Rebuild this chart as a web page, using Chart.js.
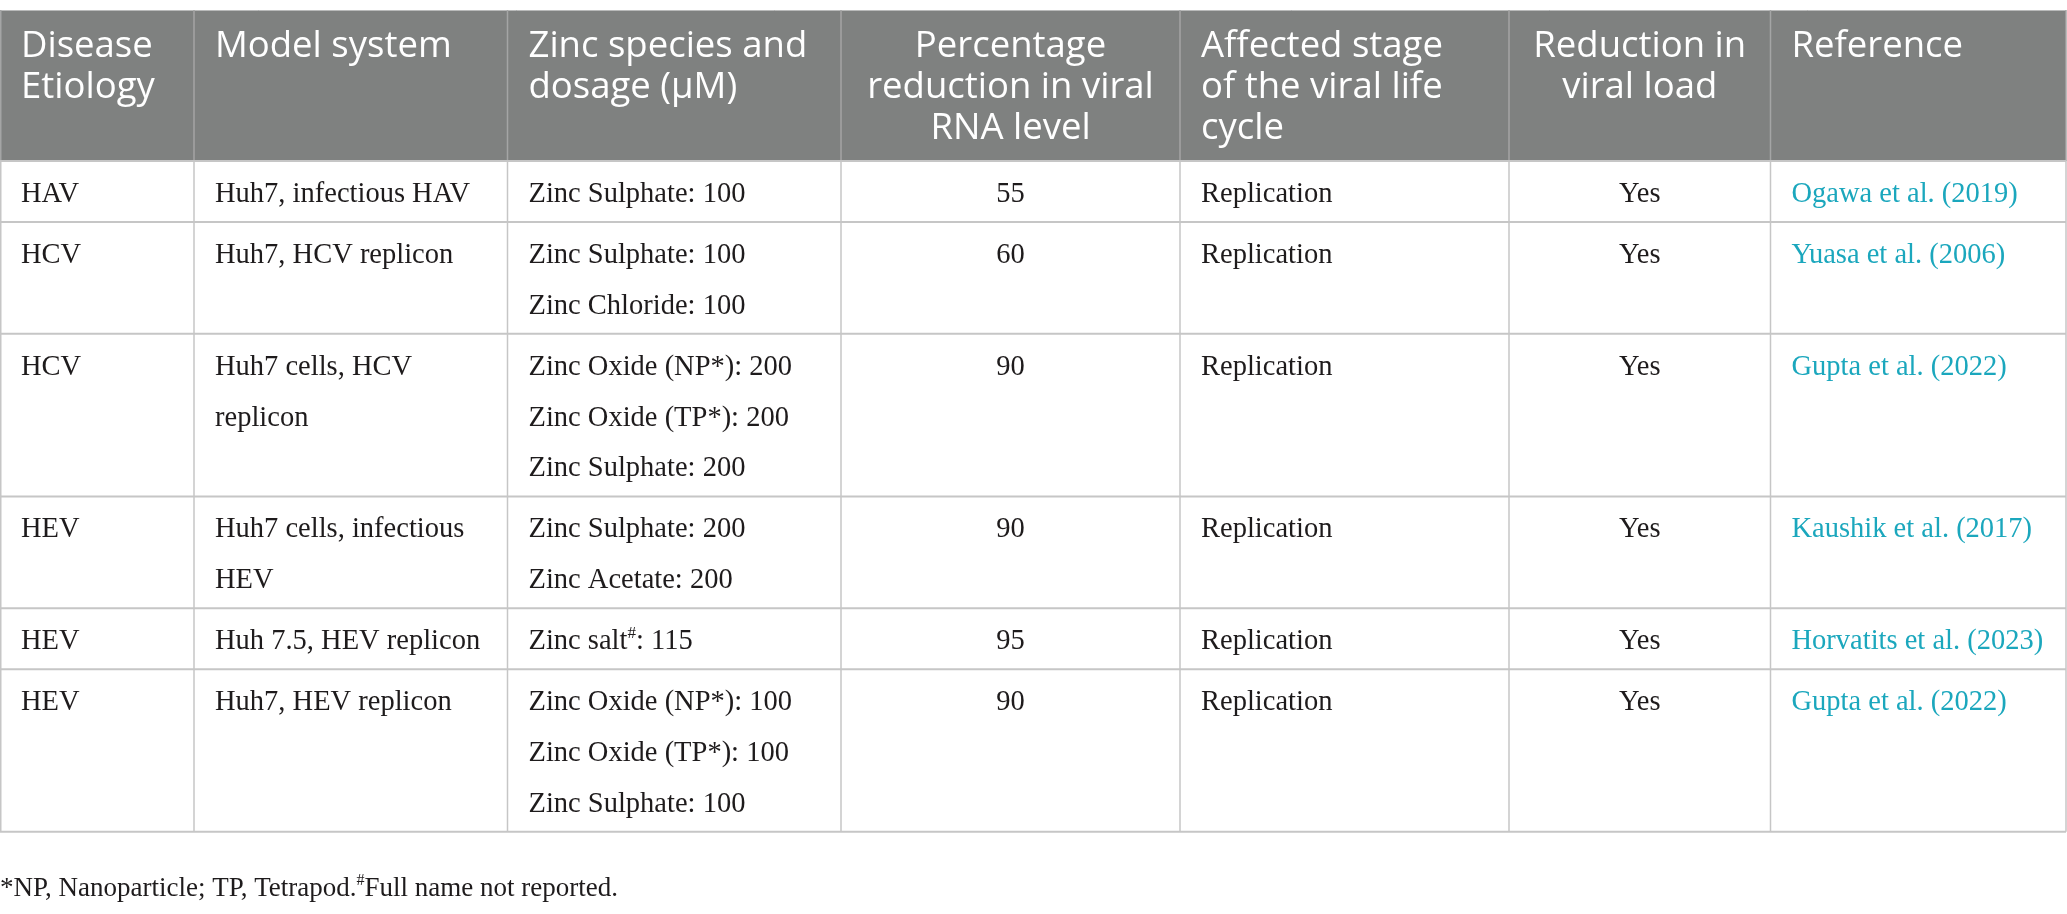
<!DOCTYPE html>
<html>
<head>
<meta charset="utf-8">
<script src="https://cdn.jsdelivr.net/npm/chart.js@4.4.1/dist/chart.umd.min.js"></script>
<style>
  html, body { margin: 0; padding: 0; background: #ffffff; overflow: hidden; }
  #wrap { width: 2067px; height: 914px; position: relative; }
</style>
</head>
<body>
<div id="wrap"><canvas id="c"></canvas></div>
<script>
// ---------------- DATA ----------------
const headers = [
  ['Disease', 'Etiology'],
  ['Model system'],
  ['Zinc species and', 'dosage (\u03bcM)'],
  ['Percentage', 'reduction in viral', 'RNA level'],
  ['Affected stage', 'of the viral life', 'cycle'],
  ['Reduction in', 'viral load'],
  ['Reference']
];
const etiology = ['HAV', 'HCV', 'HCV', 'HEV', 'HEV', 'HEV'];
const modelSystem = [
  ['Huh7, infectious HAV'],
  ['Huh7, HCV replicon'],
  ['Huh7 cells, HCV', 'replicon'],
  ['Huh7 cells, infectious', 'HEV'],
  ['Huh 7.5, HEV replicon'],
  ['Huh7, HEV replicon']
];
const zincDosage = [
  ['Zinc Sulphate: 100'],
  ['Zinc Sulphate: 100', 'Zinc Chloride: 100'],
  ['Zinc Oxide (NP*): 200', 'Zinc Oxide (TP*): 200', 'Zinc Sulphate: 200'],
  ['Zinc Sulphate: 200', 'Zinc Acetate: 200'],
  ['Zinc salt^#: 115'],
  ['Zinc Oxide (NP*): 100', 'Zinc Oxide (TP*): 100', 'Zinc Sulphate: 100']
];
const rnaReduction = [55, 60, 90, 90, 95, 90];
const affectedStage = ['Replication', 'Replication', 'Replication', 'Replication', 'Replication', 'Replication'];
const loadReduction = ['Yes', 'Yes', 'Yes', 'Yes', 'Yes', 'Yes'];
const references = [
  'Ogawa et al. (2019)',
  'Yuasa et al. (2006)',
  'Gupta et al. (2022)',
  'Kaushik et al. (2017)',
  'Horvatits et al. (2023)',
  'Gupta et al. (2022)'
];
const footnote = '*NP, Nanoparticle; TP, Tetrapod.^#Full name not reported.';

// ---------------- LAYOUT / STYLE ----------------
const W = 2067, H = 914;
const layout = {
  colEdges: [0, 194, 507.5, 841, 1180, 1509, 1770.5, 2066],
  colAlign: ['left', 'left', 'left', 'center', 'left', 'center', 'left'],
  padLeft: 21,
  headerTop: 10,
  headerBottom: 161,
  headerBaseline: 47,
  headerLinePitch: 41,
  rowBase: 61,
  rowLinePitch: 50.8,
  rowBaseline: 41,
  footBaseline: 896
};
const style = {
  headerBg: '#7f8180',
  headerSep: '#a4a5a5',
  headerText: '#ffffff',
  gridColor: '#c6c6c6',
  bodyText: '#1e1b1c',
  linkText: '#1ba7bd',
  headerFont: '36.5px "Open Sans"',
  bodyFont: '28.5px "Liberation Serif"',
  supFont: '17px "Liberation Serif"',
  footFont: '27px "Liberation Serif"',
  footSupFont: '16px "Liberation Serif"'
};

// Build row table from the arrays
const rows = etiology.map((e, i) => ({
  cells: [
    [e],
    modelSystem[i],
    zincDosage[i],
    [String(rnaReduction[i])],
    [affectedStage[i]],
    [loadReduction[i]],
    [references[i]]
  ]
}));

function drawRich(ctx, text, x, y, align, font, supFont) {
  // '^' marks the following character as superscript
  const parts = [];
  for (let i = 0; i < text.length; i++) {
    if (text[i] === '^' && i + 1 < text.length) { parts.push({ t: text[i + 1], sup: true }); i++; }
    else {
      if (parts.length && !parts[parts.length - 1].sup) parts[parts.length - 1].t += text[i];
      else parts.push({ t: text[i], sup: false });
    }
  }
  let total = 0;
  parts.forEach(p => { ctx.font = p.sup ? supFont : font; p.w = ctx.measureText(p.t).width; total += p.w; });
  let cx = align === 'center' ? x - total / 2 : x;
  ctx.textAlign = 'left';
  ctx.textBaseline = 'alphabetic';
  parts.forEach(p => {
    ctx.font = p.sup ? supFont : font;
    ctx.fillText(p.t, cx, p.sup ? y - 11 : y);
    cx += p.w;
  });
}

const tablePlugin = {
  id: 'tablePlugin',
  afterDraw(chart) {
    const ctx = chart.ctx;
    const xs = chart.scales.x, ys = chart.scales.y;
    const px = v => xs.getPixelForValue(v);
    const py = v => ys.getPixelForValue(v);
    const E = layout.colEdges;
    const left = E[0], right = E[E.length - 1];

    // row edges
    const rowEdges = [layout.headerBottom];
    rows.forEach(r => {
      const n = Math.max(...r.cells.map(c => c.length));
      rowEdges.push(rowEdges[rowEdges.length - 1] + layout.rowBase + (n - 1) * layout.rowLinePitch);
    });
    const tableBottom = rowEdges[rowEdges.length - 1];

    ctx.save();
    // header band
    ctx.fillStyle = style.headerBg;
    ctx.fillRect(px(left), py(layout.headerTop), px(right) - px(left), py(layout.headerBottom) - py(layout.headerTop));
    // header top edge
    ctx.strokeStyle = '#b9baba';
    ctx.lineWidth = 1;
    ctx.beginPath();
    ctx.moveTo(px(left), py(layout.headerTop) + 0.5);
    ctx.lineTo(px(right), py(layout.headerTop) + 0.5);
    ctx.stroke();
    // header separators
    ctx.strokeStyle = style.headerSep;
    ctx.lineWidth = 1.5;
    for (let i = 0; i < E.length; i++) {
      ctx.beginPath();
      ctx.moveTo(px(E[i]) + (i === 0 ? 0.75 : 0), py(layout.headerTop));
      ctx.lineTo(px(E[i]) + (i === 0 ? 0.75 : 0), py(layout.headerBottom));
      ctx.stroke();
    }
    // body grid
    ctx.strokeStyle = style.gridColor;
    ctx.lineWidth = 2;
    rowEdges.forEach(y => {
      ctx.beginPath();
      ctx.moveTo(px(left), py(y));
      ctx.lineTo(px(right), py(y));
      ctx.stroke();
    });
    ctx.lineWidth = 1.5;
    E.forEach((x, i) => {
      const xx = px(x) + (i === 0 ? 0.75 : 0);
      ctx.beginPath();
      ctx.moveTo(xx, py(layout.headerBottom));
      ctx.lineTo(xx, py(tableBottom));
      ctx.stroke();
    });

    // header text
    ctx.fillStyle = style.headerText;
    headers.forEach((lines, c) => {
      const align = layout.colAlign[c];
      const x = align === 'center' ? (E[c] + E[c + 1]) / 2 : E[c] + layout.padLeft;
      lines.forEach((ln, k) => {
        drawRich(ctx, ln, px(x), py(layout.headerTop + layout.headerBaseline + k * layout.headerLinePitch),
          align, style.headerFont, style.headerFont);
      });
    });

    // body text
    rows.forEach((r, ri) => {
      const top = rowEdges[ri];
      r.cells.forEach((lines, c) => {
        const align = layout.colAlign[c];
        const x = align === 'center' ? (E[c] + E[c + 1]) / 2 : E[c] + layout.padLeft;
        ctx.fillStyle = c === 6 ? style.linkText : style.bodyText;
        lines.forEach((ln, k) => {
          drawRich(ctx, ln, px(x), py(top + layout.rowBaseline + k * layout.rowLinePitch),
            align, style.bodyFont, style.supFont);
        });
      });
    });

    // footnote
    ctx.fillStyle = style.bodyText;
    drawRich(ctx, footnote, px(left), py(layout.footBaseline), 'left', style.footFont, style.footSupFont);
    ctx.restore();
  }
};

new Chart(document.getElementById('c'), {
  type: 'scatter',
  data: { datasets: [{ data: [], pointRadius: 0 }] },
  options: {
    responsive: true,
    maintainAspectRatio: false,
    animation: false,
    events: [],
    layout: { padding: 0 },
    plugins: { legend: { display: false }, tooltip: { enabled: false }, title: { display: false } },
    scales: {
      x: { type: 'linear', min: 0, max: W, display: false },
      y: { type: 'linear', min: 0, max: H, reverse: true, display: false }
    }
  },
  plugins: [tablePlugin]
});
</script>
</body>
</html>
